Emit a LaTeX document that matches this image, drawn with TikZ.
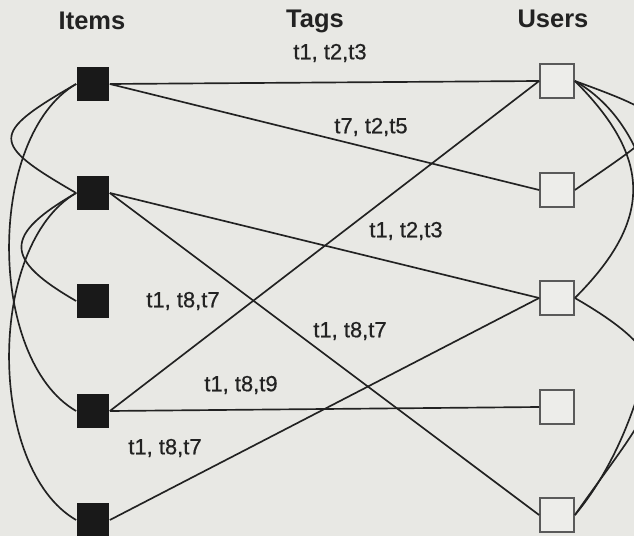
\documentclass[tikz,border=0pt]{standalone}
\usepackage{fontspec}
\setmainfont{Liberation Sans}
\newfontfamily\tagfont[FakeBold=0.6]{Liberation Sans}
\definecolor{paper}{HTML}{E8E8E4}
\definecolor{ink}{HTML}{222222}
\definecolor{userfill}{HTML}{EDEDEA}
\definecolor{userline}{HTML}{5A5A5A}

\begin{document}
\begin{tikzpicture}[x=0.02cm, y=0.02cm,
    item/.style={fill=black!90, minimum width=0.66cm, minimum height=0.68cm, inner sep=0pt},
    user/.style={draw=userline, fill=userfill, line width=1pt, minimum size=0.68cm, inner sep=0pt},
    head/.style={font=\fontsize{14.5}{17}\selectfont\bfseries, text=ink},
    tags/.style={font=\fontsize{12.5}{15}\selectfont\tagfont, text=ink},
    link/.style={draw=ink, line width=0.95pt}]
    % Paper
    \useasboundingbox (0,0) rectangle (634,-536);
    \fill[paper] (0,0) rectangle (634,-536);
    \clip (0,0) rectangle (634,-536);

    % Column heads
    \node[head] (hitems) at (92,-21) {Items};
    \node[head] (htags) at (315,-21) {Tags};
    \node[head] (husers) at (553,-19) {Users};

    % Items (left column)
    \node[item] (i1) at (93,-84) {};
    \node[item] (i2) at (93,-193) {};
    \node[item] (i3) at (93,-301) {};
    \node[item] (i4) at (93,-411) {};
    \node[item] (i5) at (93,-520) {};

    % Users (right column)
    \node[user] (u1) at (557,-81) {};
    \node[user] (u2) at (557,-190) {};
    \node[user] (u3) at (557,-298) {};
    \node[user] (u4) at (557,-407) {};
    \node[user] (u5) at (557,-515) {};

    % Tagging links
    \draw[link] (i1.east) -- (u1.west);
    \draw[link] (i1.east) -- (u2.west);
    \draw[link] (i2.east) -- (u3.west);
    \draw[link] (i2.east) -- (u5.west);
    \draw[link] (i4.east) -- (u1.west);
    \draw[link] (i4.east) -- (u4.west);
    \draw[link] (i5.east) -- (u3.west);

    % Tag sets
    \node[tags] (t1) at (330,-53) {t1, t2,t3};
    \node[tags] (t2) at (371,-127) {t7, t2,t5};
    \node[tags] (t3) at (406,-231) {t1, t2,t3};
    \node[tags] (t4) at (350,-331) {t1, t8,t7};
    \node[tags] (t5) at (183,-301) {t1, t8,t7};
    \node[tags] (t6) at (241,-385) {t1, t8,t9};
    \node[tags] (t7) at (165,-448) {t1, t8,t7};

    % Item-item arcs
    \draw[link] (i1.west) to[out=210,in=150,looseness=2.35] (i2.west);
    \draw[link] (i1.west) to[out=210,in=150,looseness=0.81] (i4.west);
    \draw[link] (i2.west) to[out=210,in=150,looseness=2.0] (i3.west);
    \draw[link] (i2.west) to[out=210,in=150,looseness=0.81] (i5.west);

    % User-user arcs
    \draw[link] (u1.east) to[out=-20,in=35,looseness=2.8] (u2.east);
    \draw[link] (u1.east) to[out=-45,in=45,looseness=1.3] (u3.east);
    \draw[link] (u1.east) to[out=-30,in=50,looseness=0.87] (u5.east);
    \draw[link] (u3.east) to[out=-30,in=55,looseness=1.7] (u5.east);
\end{tikzpicture}
\end{document}
